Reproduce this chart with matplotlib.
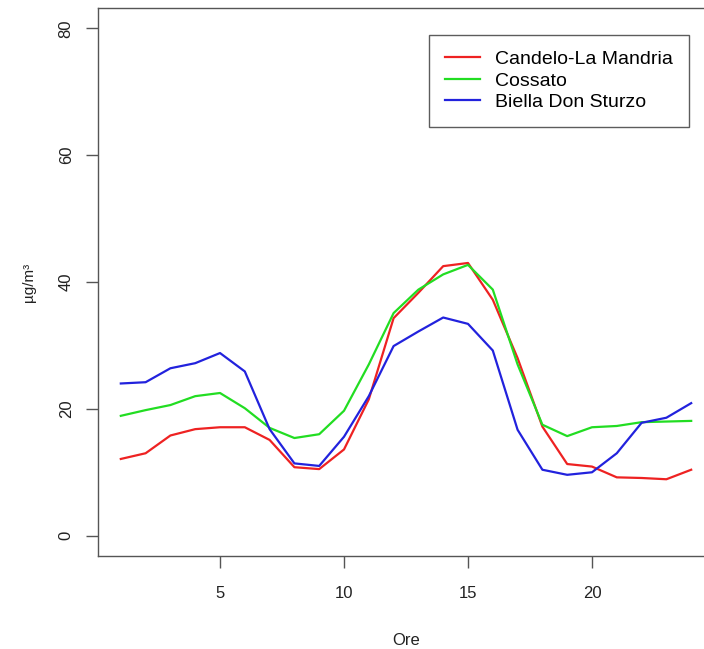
import matplotlib
matplotlib.use("Agg")
import matplotlib.pyplot as plt

plt.rcParams['font.family'] = ['Liberation Sans', 'DejaVu Sans']

# concentrazioni medie orarie (µg/m³)
ore = list(range(1, 25))
candelo = [12.1, 13.0, 15.8, 16.8, 17.1, 17.1, 15.1, 10.8, 10.5, 13.6, 21.5, 34.3,
           38.3, 42.5, 43.0, 37.2, 28.0, 17.2, 11.3, 10.9, 9.2, 9.1, 8.9, 10.4]
cossato = [18.9, 19.8, 20.6, 22.0, 22.5, 20.1, 17.0, 15.4, 16.0, 19.7, 27.0, 35.1,
           38.8, 41.2, 42.7, 38.8, 27.0, 17.5, 15.7, 17.1, 17.3, 17.9, 18.0, 18.1]
biella = [24.0, 24.2, 26.4, 27.2, 28.8, 25.9, 16.8, 11.4, 11.0, 15.6, 22.0, 29.9,
          32.2, 34.4, 33.4, 29.2, 16.7, 10.4, 9.6, 10.0, 13.0, 17.8, 18.6, 20.9]
stazioni = ['Candelo-La Mandria', 'Cossato', 'Biella Don Sturzo']
colori = ['#ee2222', '#22dd22', '#2222dd']

W, H = 704, 649
fig = plt.figure(figsize=(W / 100, H / 100), dpi=100)
ax = fig.add_axes([98 / W, (H - 556) / H, (714 - 98) / W, (556 - 8) / H])

for serie, nome, col in zip([candelo, cossato, biella], stazioni, colori):
    ax.plot(ore, serie, color=col, lw=1.6, label=nome)

ax.set_xlim(0.08, 24.92)
ax.set_ylim(-3.2, 83.2)
ax.set_xticks([5, 10, 15, 20])
ax.set_yticks([0, 20, 40, 60, 80])
ax.set_yticklabels(['0', '20', '40', '60', '80'], rotation=90, va='center')

for s in ax.spines.values():
    s.set_color('#555555')
    s.set_linewidth(1.0)
ax.tick_params(direction='out', length=8.5, width=1.0, color='#555555',
               labelsize=12, labelcolor='#222222')
ax.tick_params(axis='x', pad=13)
ax.tick_params(axis='y', pad=9)

ax.set_xlabel('Ore', fontsize=12, color='#222222', labelpad=23)
ax.set_ylabel('µg/m³', fontsize=11, color='#222222', labelpad=16)

leg = ax.legend(loc='upper left', bbox_to_anchor=((429 - 98) / (714 - 98), (556 - 35) / (556 - 8)),
                fontsize=14, frameon=True, fancybox=False, edgecolor='#333333',
                handlelength=1.8, handletextpad=0.8, borderpad=0.8, labelspacing=0.2,
                borderaxespad=0)
leg.get_frame().set_linewidth(1.0)

fig.savefig('out.png', dpi=100, facecolor='white')
